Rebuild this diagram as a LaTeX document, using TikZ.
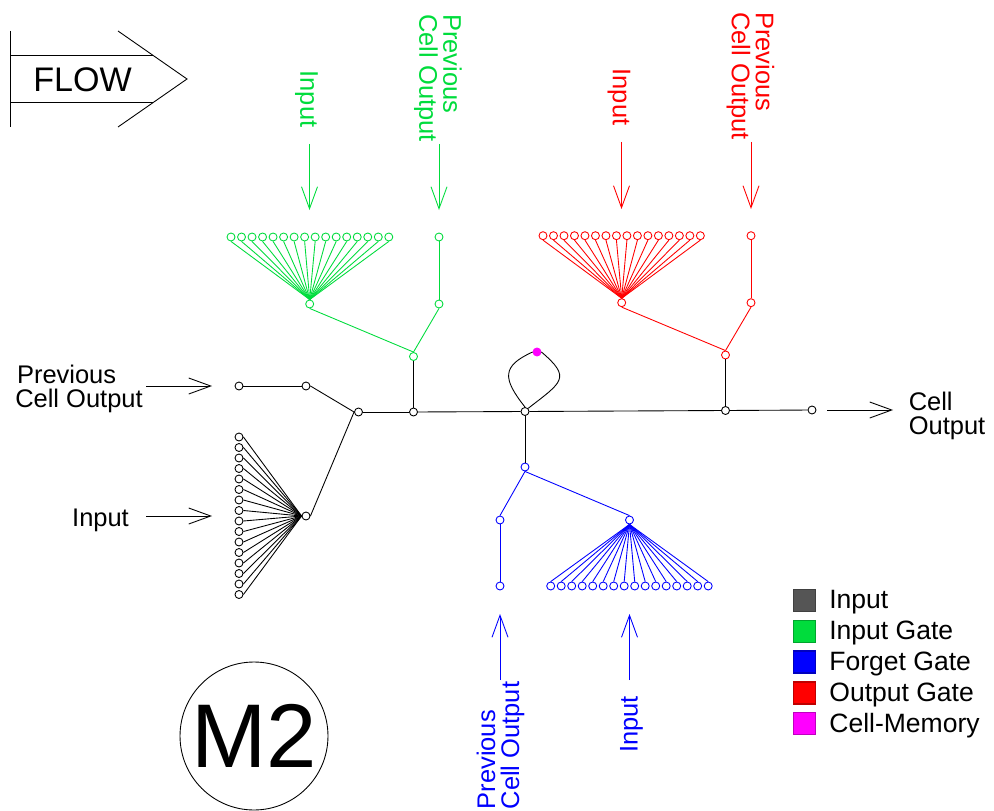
\documentclass[tikz,border=0pt]{standalone}
\usepackage{fontspec}
\setmainfont{Liberation Sans}
\usetikzlibrary{arrows.meta}

\definecolor{inputgreen}{RGB}{0,220,60}
\definecolor{inputgray}{RGB}{85,85,85}
\definecolor{forgetblue}{RGB}{0,0,255}
\definecolor{outputred}{RGB}{255,0,0}
\definecolor{memorypink}{RGB}{255,0,255}

\tikzset{
  unit/.style={circle,draw,fill=white,inner sep=0pt,minimum size=0.16cm,line width=0.5pt},
  wire/.style={line width=0.5pt},
  flowarrow/.style={line width=0.5pt,-{Straight Barb[length=0.44cm,width=0.32cm,line width=0.5pt]}},
  lab/.style={inner sep=0pt,align=left,font=\fontsize{14.5}{13.6}\selectfont},
  keylab/.style={inner sep=0pt,anchor=west,font=\fontsize{15.1}{16}\selectfont},
  swatch/.style={draw=#1!75!black,fill=#1,line width=0.6pt,inner sep=0pt,minimum size=0.44cm}
}

\begin{document}
\begin{tikzpicture}[x=0.02cm,y=-0.02cm]
   \useasboundingbox (0,0) rectangle (994,811);

   % flow sign
   \coordinate (fa) at (10.5,31);
   \coordinate (fb) at (10.5,127);
   \coordinate (fc) at (10.5,55.5);
   \coordinate (fd) at (153,55.5);
   \coordinate (fe) at (10.5,102);
   \coordinate (ff) at (153,102);
   \coordinate (fg) at (118,31);
   \coordinate (fh) at (187,79);
   \coordinate (fi) at (118,127);
   \draw[wire] (fa) -- (fb) (fc) -- (fd) (fe) -- (ff);
   \draw[wire] (fg) -- (fh) -- (fi);
   \node[inner sep=0pt,font=\fontsize{19.4}{20}\selectfont] (flow) at (82.5,79.5) {FLOW};

   % input layer
   \node[unit] (top1) at (239,386) {};
   \node[unit] (top2) at (306,386) {};
   \node[unit] (hub) at (306,516) {};
   \node[unit] (j1) at (358.5,412) {};
   \node[unit] (j2) at (413.5,412) {};
   \node[unit] (main) at (525,411.5) {};
   \node[unit] (j3) at (725.5,410.5) {};
   \node[unit] (out) at (812,410) {};
   \node[unit,fill=memorypink,draw=memorypink] (mem) at (537,352) {};
   \foreach \i in {0,...,15} {
     \node[unit] (l\i) at (239,{437+\i*10.5}) {};
     \draw[wire] (l\i.east) -- (hub.west);
   }
   \draw[wire] (top1) -- (top2);
   \draw[wire] (top2.east) -- (j1.west);
   \draw[wire] (hub.east) -- (j1.west);
   \draw[wire] (j1) -- (j2);
   \draw[wire] (j2) -- (main);
   \draw[wire] (main) -- (j3);
   \draw[wire] (j3) -- (out);
   \draw[wire] (main.north) .. controls (502,378) and (502,366) .. (mem.west);
   \draw[wire] (mem.east) .. controls (572,378) and (562,382) .. (main.north east);

   \coordinate (ia) at (146,386);
   \coordinate (ib) at (212,386);
   \coordinate (ic) at (146,516);
   \coordinate (id) at (212,516);
   \coordinate (oa) at (827,410);
   \coordinate (ob) at (893,410);
   \draw[flowarrow] (ia) -- (ib);
   \draw[flowarrow] (ic) -- (id);
   \draw[flowarrow] (oa) -- (ob);
   \node[lab] (prevlab) at (79,389) {\hspace{1pt}Previous\\Cell Output};
   \node[lab] (inlab) at (100.5,520) {Input};
   \node[lab] (outlab) at (947,416) {Cell\\Output};

   % input gate
   \begin{scope}[color=inputgreen,every node/.append style={text=inputgreen}]
     \node[unit] (gh) at (309.7,304) {};
     \node[unit] (gp0) at (439,237) {};
     \node[unit] (gp1) at (439,304) {};
     \node[unit] (gj) at (413.5,356.5) {};
     \foreach \i in {0,...,15} {
       \node[unit] (gl\i) at ({231+\i*10.52},237) {};
       \draw[wire] (gl\i.south) -- (gh.north);
     }
     \draw[wire] (gp0) -- (gp1);
     \draw[wire] (gh.south) -- (gj.north);
     \draw[wire] (gp1.south) -- (gj.north);
     \coordinate (ga) at (309.5,144);
     \coordinate (gb) at (309.5,210);
     \coordinate (gc) at (439,144);
     \coordinate (gd) at (439,210);
     \draw[flowarrow,draw=inputgreen] (ga) -- (gb);
     \draw[flowarrow,draw=inputgreen] (gc) -- (gd);
     \node[lab,rotate=-90] (ginlab) at (306.5,99) {Input};
     \node[lab,rotate=-90] (gprevlab) at (438,78) {Previous\\Cell Output};
   \end{scope}
   \draw[wire] (gj) -- (j2);

   % output gate
   \begin{scope}[color=outputred,every node/.append style={text=outputred}]
     \node[unit] (rh) at (621.7,302.7) {};
     \node[unit] (rp0) at (751,235.7) {};
     \node[unit] (rp1) at (751,302.7) {};
     \node[unit] (rj) at (725.5,355) {};
     \foreach \i in {0,...,15} {
       \node[unit] (rl\i) at ({543+\i*10.49},235.7) {};
       \draw[wire] (rl\i.south) -- (rh.north);
     }
     \draw[wire] (rp0) -- (rp1);
     \draw[wire] (rh.south) -- (rj.north);
     \draw[wire] (rp1.south) -- (rj.north);
     \coordinate (ra) at (621.5,142);
     \coordinate (rb) at (621.5,209);
     \coordinate (rc) at (751,142);
     \coordinate (rd) at (751,209);
     \draw[flowarrow,draw=outputred] (ra) -- (rb);
     \draw[flowarrow,draw=outputred] (rc) -- (rd);
     \node[lab,rotate=-90] (rinlab) at (619,97) {Input};
     \node[lab,rotate=-90] (rprevlab) at (750.5,76) {Previous\\Cell Output};
   \end{scope}
   \draw[wire] (rj) -- (j3);

   % forget gate
   \begin{scope}[color=forgetblue,every node/.append style={text=forgetblue}]
     \node[unit] (bj) at (525,467) {};
     \node[unit] (bh) at (629.5,520) {};
     \node[unit] (bp1) at (500,520) {};
     \node[unit] (bp0) at (500,586) {};
     \foreach \i in {0,...,15} {
       \node[unit] (bl\i) at ({550.7+\i*10.5},586) {};
       \draw[wire] (bl\i.north) -- (bh.south);
     }
     \draw[wire] (bp0) -- (bp1);
     \draw[wire] (bj.south) -- (bh.north);
     \draw[wire] (bj.south) -- (bp1.north);
     \coordinate (ba) at (500,680);
     \coordinate (bb) at (500,614);
     \coordinate (bc) at (629.5,680);
     \coordinate (bd) at (629.5,614);
     \draw[flowarrow,draw=forgetblue] (ba) -- (bb);
     \draw[flowarrow,draw=forgetblue] (bc) -- (bd);
     \node[lab,rotate=90] (binlab) at (631.5,724.5) {Input};
     \node[lab,rotate=90] (bprevlab) at (500.5,745.5) {Previous\\Cell Output};
   \end{scope}
   \draw[wire] (bj) -- (main);

   % model badge
   \node[circle,draw,line width=0.5pt,minimum size=2.96cm,inner sep=0pt,font=\fontsize{51.5}{50}\selectfont] (badge) at (254,736) {M2};

   % legend
   \node[swatch=inputgray] (k1) at (804.5,600.5) {};
   \node[swatch=inputgreen] (k2) at (804.5,631.5) {};
   \node[swatch=forgetblue] (k3) at (804.5,662) {};
   \node[swatch=outputred] (k4) at (804.5,693) {};
   \node[swatch=memorypink] (k5) at (804.5,723.5) {};
   \node[keylab] (t1) at (829,602) {Input};
   \node[keylab] (t2) at (829,633) {Input Gate};
   \node[keylab] (t3) at (829,664) {Forget Gate};
   \node[keylab] (t4) at (829,695) {Output Gate};
   \node[keylab] (t5) at (829,725.5) {Cell-Memory};
\end{tikzpicture}
\end{document}
